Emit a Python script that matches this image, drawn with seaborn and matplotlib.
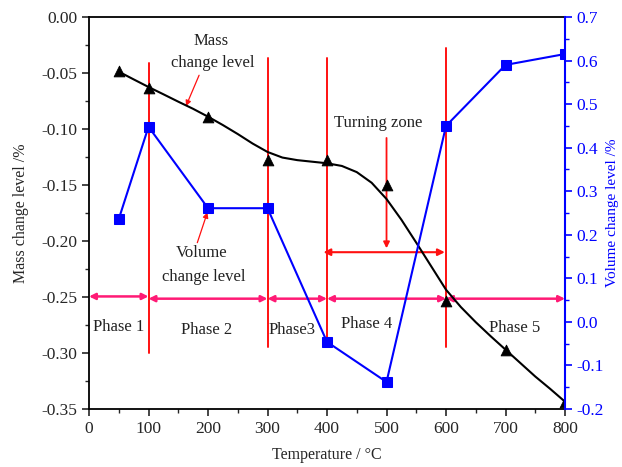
import matplotlib
matplotlib.use("Agg")
import matplotlib.pyplot as plt
from matplotlib.ticker import MultipleLocator, FormatStrFormatter
import pandas as pd
import seaborn as sns

# Measured points
temperature = [50, 100, 200, 300, 400, 500, 600, 700, 800]
mass_change = [-0.048, -0.063, -0.089, -0.128, -0.128, -0.150, -0.254, -0.297, -0.344]
volume_change = [0.236, 0.448, 0.261, 0.261, -0.046, -0.138, 0.450, 0.590, 0.615]

# Fitted mass-change trend
fit_temperature = [50, 75, 100, 125, 150, 175, 200, 225, 250, 275, 300, 325, 350,
                   375, 400, 425, 450, 475, 500, 525, 550, 575, 600, 625, 650,
                   675, 700, 725, 750, 775, 800]
fit_mass = [-0.0488, -0.0557, -0.0625, -0.0690, -0.0756, -0.0820, -0.0890, -0.0965,
            -0.1045, -0.1130, -0.1205, -0.1255, -0.1278, -0.1292, -0.1306, -0.1330,
            -0.1385, -0.1480, -0.1625, -0.1810, -0.2015, -0.2225, -0.2435, -0.2590,
            -0.2725, -0.2850, -0.2970, -0.3090, -0.3210, -0.3320, -0.3435]

# Phase boundaries and labels
phase_bounds = [100, 300, 400, 600]
bound_top = [-0.041, -0.037, -0.037, -0.028]
bound_bottom = [-0.300, -0.295, -0.293, -0.295]
phase_start = [0, 100, 300, 400, 600]
phase_end = [100, 300, 400, 600, 800]
phase_level = [-0.2495, -0.2515, -0.2515, -0.2515, -0.2515]
phase_names = ["Phase 1", "Phase 2", "Phase3", "Phase 4", "Phase 5"]
phase_label_x = [50, 197, 341, 466, 716]
phase_label_y = [-0.2765, -0.2795, -0.2795, -0.2745, -0.2775]

sns.set_style("ticks")
plt.rcParams["font.family"] = ["Liberation Serif", "DejaVu Serif"]

fig = plt.figure(figsize=(6.22, 4.67), dpi=100)
ax = fig.add_axes([0.1431, 0.1242, 0.7653, 0.8394])
ax2 = ax.twinx()

pts = pd.DataFrame({"T": temperature, "mass": mass_change, "vol": volume_change})
fit = pd.DataFrame({"T": fit_temperature, "mass": fit_mass})

RED = "#ff1010"
PINK = "#ff1a75"
BLUE = "#0000ff"
TEXT = "#222222"

# phase boundaries
for x, top, bot in zip(phase_bounds, bound_top, bound_bottom):
    ax.plot([x, x], [top, bot], color=RED, lw=1.4, zorder=2)

# phase span arrows
for x0, x1, lvl in zip(phase_start, phase_end, phase_level):
    ax.annotate("", xy=(x1, lvl), xytext=(x0, lvl),
                arrowprops=dict(arrowstyle="<|-|>", color=PINK, lw=1.8,
                                mutation_scale=9, shrinkA=0, shrinkB=0), zorder=2)
for name, x, y in zip(phase_names, phase_label_x, phase_label_y):
    ax.text(x, y, name, ha="center", va="center", fontsize=12, color=TEXT)

# mass change: fitted curve and measured points
sns.lineplot(data=fit, x="T", y="mass", ax=ax, color="black", lw=1.5, zorder=4)
sns.scatterplot(data=pts, x="T", y="mass", ax=ax, marker="^", s=60,
                color="black", edgecolor="black", zorder=5)

# volume change
sns.lineplot(data=pts, x="T", y="vol", ax=ax2, color=BLUE, lw=1.5,
             marker="s", markersize=6.5, markeredgecolor=BLUE, zorder=4)

# annotations
ax.text(205, -0.0215, "Mass", ha="center", va="center", fontsize=12, color=TEXT)
ax.text(208, -0.0415, "change level", ha="center", va="center", fontsize=12,
        color=TEXT)
ax.annotate("", xy=(163, -0.0795), xytext=(185, -0.052),
            arrowprops=dict(arrowstyle="-|>", color=RED, lw=0.9,
                            mutation_scale=8, shrinkA=0, shrinkB=0))

ax.text(190, -0.2105, "Volume", ha="center", va="center", fontsize=12, color=TEXT)
ax.text(192, -0.2320, "change level", ha="center", va="center", fontsize=12,
        color=TEXT)
ax.annotate("", xy=(199, -0.1744), xytext=(182, -0.2015),
            arrowprops=dict(arrowstyle="-|>", color=RED, lw=0.9,
                            mutation_scale=8, shrinkA=0, shrinkB=0))

ax.text(486, -0.095, "Turning zone", ha="center", va="center", fontsize=12,
        color=TEXT)
ax.annotate("", xy=(500, -0.2065), xytext=(500, -0.108),
            arrowprops=dict(arrowstyle="-|>", color=RED, lw=1.3,
                            mutation_scale=9, shrinkA=0, shrinkB=0))
ax.annotate("", xy=(598, -0.210), xytext=(394, -0.210),
            arrowprops=dict(arrowstyle="<|-|>", color=RED, lw=1.5,
                            mutation_scale=10, shrinkA=0, shrinkB=0))

# axes styling
ax.set_xlim(0, 800)
ax.set_ylim(-0.35, 0.0)
ax2.set_ylim(-0.2, 0.7)
ax.xaxis.set_major_locator(MultipleLocator(100))
ax.xaxis.set_minor_locator(MultipleLocator(50))
ax.yaxis.set_major_locator(MultipleLocator(0.05))
ax.yaxis.set_minor_locator(MultipleLocator(0.025))
ax.yaxis.set_major_formatter(FormatStrFormatter("%.2f"))
ax2.yaxis.set_major_locator(MultipleLocator(0.1))
ax2.yaxis.set_minor_locator(MultipleLocator(0.05))
ax2.yaxis.set_major_formatter(FormatStrFormatter("%.1f"))

for a in (ax, ax2):
    a.tick_params(which="major", length=5, width=1.2, direction="out", labelsize=12.5)
    a.tick_params(which="minor", length=3, width=1.0, direction="out")
ax.tick_params(axis="x", top=False, which="both")
ax2.tick_params(axis="y", colors=BLUE, which="both")

ax.set_xlabel("Temperature / \u00b0C", fontsize=11.5, labelpad=7)
ax.set_ylabel("Mass change level /%", fontsize=11.5, labelpad=9)
ax2.set_ylabel("Volume change level /%", fontsize=11, color=BLUE, labelpad=1)

for s in ("left", "bottom", "top"):
    ax.spines[s].set_color("black")
    ax.spines[s].set_linewidth(1.3)
ax.spines["right"].set_visible(False)
ax2.spines["left"].set_visible(False)
ax2.spines["top"].set_visible(False)
ax2.spines["bottom"].set_visible(False)
ax2.spines["right"].set_color(BLUE)
ax2.spines["right"].set_linewidth(1.5)

fig.savefig("out.png", dpi=100)
